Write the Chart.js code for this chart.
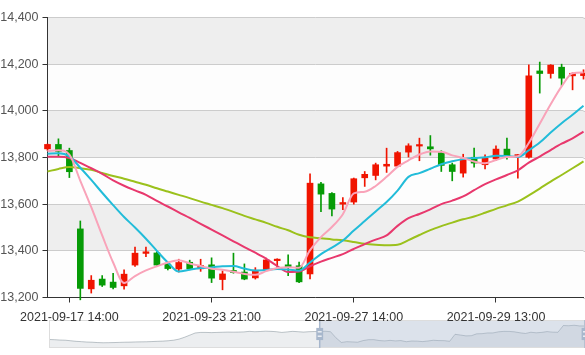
<!DOCTYPE html>
<html>
<head>
<meta charset="utf-8">
<script src="https://cdn.jsdelivr.net/npm/chart.js@4.4.1/dist/chart.umd.min.js"></script>
<style>
  html, body { margin: 0; padding: 0; background: #fff; overflow: hidden; }
  #wrap { position: relative; width: 585px; height: 355px; }
  #zoomBar { position: absolute; left: 49px; top: 320px; }
  #main { position: absolute; left: 0; top: 0; }
</style>
</head>
<body>
<div id="wrap">
  <canvas id="zoomBar" width="536" height="28"></canvas>
  <canvas id="main" width="585" height="355"></canvas>
</div>
<script>
// hourly bars, visible window of the zoom (second half of the series)
const categories = [
  '2021-09-17 11:00', '2021-09-17 13:00', '2021-09-17 14:00',
  '2021-09-22 09:00', '2021-09-22 10:00', '2021-09-22 11:00', '2021-09-22 13:00', '2021-09-22 14:00', '2021-09-22 21:00', '2021-09-22 22:00',
  '2021-09-23 09:00', '2021-09-23 10:00', '2021-09-23 11:00', '2021-09-23 13:00', '2021-09-23 14:00', '2021-09-23 21:00', '2021-09-23 22:00',
  '2021-09-24 09:00', '2021-09-24 10:00', '2021-09-24 11:00', '2021-09-24 13:00', '2021-09-24 14:00', '2021-09-24 21:00', '2021-09-24 22:00',
  '2021-09-27 09:00', '2021-09-27 10:00', '2021-09-27 11:00', '2021-09-27 13:00', '2021-09-27 14:00', '2021-09-27 21:00', '2021-09-27 22:00',
  '2021-09-28 09:00', '2021-09-28 10:00', '2021-09-28 11:00', '2021-09-28 13:00', '2021-09-28 14:00', '2021-09-28 21:00', '2021-09-28 22:00',
  '2021-09-29 09:00', '2021-09-29 10:00', '2021-09-29 11:00', '2021-09-29 13:00', '2021-09-29 14:00', '2021-09-29 21:00', '2021-09-29 22:00',
  '2021-09-30 09:00', '2021-09-30 10:00', '2021-09-30 11:00', '2021-09-30 13:00', '2021-09-30 14:00'
];

const opens = [13837, 13856, 13830, 13494, 13237, 13279, 13266, 13250, 13339, 13389,
  13391, 13343, 13322, 13351, 13323, 13340, 13277, 13316, 13309, 13284,
  13319, 13358, 13340, 13336, 13301, 13687, 13646, 13600, 13609, 13713,
  13723, 13763, 13763, 13823, 13849, 13846, 13821, 13769, 13733, 13801,
  13769, 13794, 13836, 13806, 13801, 14171, 14160, 14187, 14150, 14151];
const closes = [13856, 13826, 13739, 13239, 13274, 13253, 13243, 13300, 13390, 13396,
  13339, 13324, 13350, 13323, 13337, 13283, 13301, 13307, 13279, 13317,
  13361, 13364, 13331, 13267, 13690, 13643, 13579, 13607, 13709, 13728,
  13769, 13771, 13821, 13850, 13853, 13837, 13766, 13740, 13794, 13776,
  13797, 13836, 13807, 13811, 14150, 14160, 14196, 14140, 14161, 14161];
const lows = [13830, 13804, 13714, 13190, 13219, 13247, 13237, 13236, 13333, 13375,
  13333, 13318, 13309, 13319, 13312, 13264, 13233, 13304, 13276, 13279,
  13312, 13320, 13294, 13264, 13280, 13568, 13550, 13576, 13600, 13676,
  13704, 13736, 13761, 13802, 13786, 13810, 13740, 13700, 13716, 13759,
  13751, 13787, 13793, 13711, 13797, 14076, 14140, 14108, 14090, 14136];
const highs = [13858, 13880, 13840, 13528, 13294, 13294, 13304, 13319, 13416, 13416,
  13397, 13347, 13364, 13360, 13364, 13370, 13314, 13390, 13344, 13328,
  13369, 13366, 13383, 13352, 13730, 13694, 13650, 13628, 13712, 13740,
  13776, 13840, 13826, 13859, 13883, 13894, 13829, 13776, 13814, 13840,
  13811, 13850, 13883, 13813, 14197, 14209, 14198, 14200, 14163, 14176];

const ma5 = [13828, 13831, 13812, 13700, 13587, 13466, 13350, 13262, 13292, 13316,
  13334, 13350, 13360, 13346, 13335, 13323, 13319, 13310, 13301, 13297,
  13313, 13326, 13330, 13328, 13403, 13459, 13502, 13557, 13646, 13653,
  13678, 13717, 13760, 13788, 13813, 13826, 13825, 13809, 13798, 13783,
  13775, 13789, 13802, 13805, 13862, 13945, 14028, 14105, 14161, 14164];
const ma10 = [13816, 13818, 13805, 13756, 13704, 13649, 13596, 13545, 13500, 13452,
  13400, 13350, 13311, 13319, 13326, 13329, 13334, 13335, 13324, 13316,
  13318, 13322, 13320, 13315, 13350, 13386, 13414, 13444, 13487, 13528,
  13569, 13609, 13658, 13717, 13733, 13752, 13771, 13784, 13793, 13798,
  13801, 13807, 13806, 13802, 13831, 13864, 13907, 13947, 13983, 14022];
const ma20 = [13803, 13803, 13798, 13777, 13754, 13730, 13702, 13679, 13659, 13640,
  13614, 13590, 13565, 13541, 13516, 13491, 13466, 13441, 13416, 13392,
  13366, 13335, 13309, 13311, 13334, 13354, 13370, 13386, 13408, 13429,
  13448, 13466, 13507, 13540, 13558, 13578, 13600, 13615, 13633, 13660,
  13686, 13706, 13725, 13745, 13778, 13804, 13832, 13859, 13882, 13911];
const ma30 = [13740, 13751, 13759, 13754, 13747, 13734, 13721, 13709, 13696, 13683,
  13668, 13654, 13640, 13626, 13611, 13597, 13583, 13567, 13550, 13535,
  13520, 13503, 13488, 13469, 13458, 13454, 13449, 13445, 13438, 13430,
  13426, 13424, 13426, 13446, 13468, 13489, 13506, 13521, 13535, 13547,
  13563, 13580, 13595, 13611, 13638, 13667, 13697, 13725, 13754, 13783];

// opens of the first half of the series, only seen in the zoom slider shadow
const earlierOpens = [13400, 13390, 13370, 13360, 13330, 13300, 13280, 13260, 13250, 13230,
  13220, 13225, 13230, 13240, 13250, 13255, 13265, 13270, 13275, 13285,
  13300, 13310, 13330, 13360, 13420, 13520, 13640, 13760, 13790, 13790,
  13780, 13790, 13800, 13810, 13805, 13810, 13820, 13850, 13830, 13840,
  13860, 13850, 13830, 13790, 13820, 13850, 13830, 13810, 13830, 13840];

const yMin = 13200, yMax = 14400, yStep = 200;
const labelEvery = 13;
const zoomStart = earlierOpens.length;

const upColor = '#f01400';
const downColor = '#069b06';
const candleColors = closes.map((c, i) => c >= opens[i] ? upColor : downColor);

const font = { family: 'Liberation Sans, Arial, sans-serif', size: 12.5 };

const splitBands = {
  id: 'splitBands',
  beforeDraw(chart) {
    const { ctx, chartArea, scales: { y } } = chart;
    const ticks = y.ticks;
    ctx.save();
    for (let k = 0; k < ticks.length - 1; k++) {
      const y0 = y.getPixelForValue(ticks[k].value);
      const y1 = y.getPixelForValue(ticks[k + 1].value);
      ctx.fillStyle = k % 2 ? 'rgba(200,200,200,0.3)' : 'rgba(250,250,250,0.3)';
      ctx.fillRect(chartArea.left, y1, chart.width - chartArea.left, y0 - y1);
    }
    ctx.restore();
  },
  beforeDatasetsDraw(chart) {
    // grid lines run on to the edge of the picture
    const { ctx, chartArea, scales: { y } } = chart;
    ctx.save();
    ctx.strokeStyle = '#ccc';
    ctx.lineWidth = 1;
    y.ticks.forEach(t => {
      const py = Math.round(y.getPixelForValue(t.value)) + 0.5;
      ctx.beginPath();
      ctx.moveTo(chartArea.right, py);
      ctx.lineTo(chart.width, py);
      ctx.stroke();
    });
    ctx.restore();
  }
};

new Chart(document.getElementById('main'), {
  type: 'bar',
  data: {
    labels: categories,
    datasets: [
      { type: 'line', label: 'MA5', data: ma5, borderColor: '#f9a3b9', borderWidth: 2, pointRadius: 0, cubicInterpolationMode: 'monotone', order: 0 },
      { type: 'line', label: 'MA10', data: ma10, borderColor: '#22bcd9', borderWidth: 2, pointRadius: 0, cubicInterpolationMode: 'monotone', order: 0 },
      { type: 'line', label: 'MA20', data: ma20, borderColor: '#e8386d', borderWidth: 2, pointRadius: 0, cubicInterpolationMode: 'monotone', order: 0 },
      { type: 'line', label: 'MA30', data: ma30, borderColor: '#9bc11c', borderWidth: 2, pointRadius: 0, cubicInterpolationMode: 'monotone', order: 0 },
      {
        label: 'body', data: opens.map((o, i) => [o, closes[i]]),
        backgroundColor: candleColors, barThickness: 6, minBarLength: 1.5,
        grouped: false, clip: false, order: 1
      },
      {
        label: 'wick', data: lows.map((l, i) => [l, highs[i]]),
        backgroundColor: candleColors, barThickness: 1,
        grouped: false, clip: false, order: 2
      }
    ]
  },
  options: {
    responsive: false,
    animation: false,
    devicePixelRatio: 1,
    layout: { padding: { top: 17.5, right: 1.5, left: 0, bottom: 0 } },
    plugins: { legend: { display: false }, tooltip: { enabled: false } },
    scales: {
      x: {
        offset: false,
        afterFit: s => { s.height = 57.5; },
        grid: { offset: false, drawOnChartArea: false, drawTicks: true, tickLength: 5, tickColor: '#333' },
        border: { color: '#333', width: 1 },
        ticks: {
          autoSkip: false, maxRotation: 0, padding: 8, color: '#333', font,
          callback: (v, i) => ((i + zoomStart) % labelEvery === 0 ? categories[i] : null)
        }
      },
      y: {
        min: yMin, max: yMax,
        afterFit: s => { s.width = 47.5; },
        grid: { color: '#ccc', tickLength: 5, tickColor: '#333' },
        border: { color: '#333', width: 1 },
        ticks: { stepSize: yStep, padding: 4, color: '#555', font }
      }
    }
  },
  plugins: [splitBands]
});

// zoom slider with the shadow of the whole series
const fullSeries = earlierOpens.concat(opens);
const lo = Math.min(...fullSeries), hi = Math.max(...fullSeries);
const pad = (hi - lo) * 0.3;

const sliderDeco = {
  id: 'sliderDeco',
  afterDraw(chart) {
    const { ctx, chartArea: a, scales: { x } } = chart;
    const x0 = x.getPixelForValue(zoomStart);
    const x1 = x.getPixelForValue(fullSeries.length - 1);
    ctx.save();
    ctx.fillStyle = 'rgba(167,183,204,0.4)';
    ctx.fillRect(x0, a.top, x1 - x0, a.bottom - a.top);
    ctx.strokeStyle = '#ddd';
    ctx.lineWidth = 1;
    ctx.strokeRect(0.5, 0.5, chart.width - 1, chart.height - 1);
    const h = chart.height, k = h / 34.3;
    [x0, x1].forEach(hx => {
      ctx.fillStyle = '#a7b7cc';
      ctx.fillRect(hx - 0.9 * k, 0, 1.8 * k, h);
      ctx.fillRect(hx - 4.2 * k, (13.6 - 3.9) * k, 8.4 * k, 14.9 * k);
      ctx.fillStyle = '#fff';
      ctx.fillRect(hx - 2.45 * k, (17.7 - 3.9) * k, 4.9 * k, 1.4 * k);
      ctx.fillRect(hx - 2.45 * k, (23.0 - 3.9) * k, 4.9 * k, 1.4 * k);
    });
    ctx.restore();
  }
};

new Chart(document.getElementById('zoomBar'), {
  type: 'line',
  data: {
    labels: fullSeries.map((v, i) => i),
    datasets: [{
      data: fullSeries,
      borderColor: 'rgba(47,69,84,0.3)', borderWidth: 1,
      backgroundColor: 'rgba(47,69,84,0.09)', fill: 'start',
      pointRadius: 0, tension: 0
    }]
  },
  options: {
    responsive: false,
    animation: false,
    devicePixelRatio: 1,
    layout: { padding: 0 },
    plugins: { legend: { display: false }, tooltip: { enabled: false } },
    scales: {
      x: { display: false, offset: false },
      y: { display: false, min: lo - pad, max: hi + pad }
    }
  },
  plugins: [sliderDeco]
});
</script>
</body>
</html>
